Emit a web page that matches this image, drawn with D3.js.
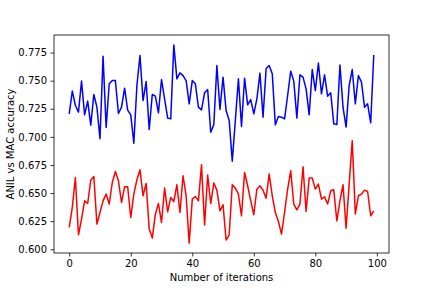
<!DOCTYPE html>
<html>
<head>
<meta charset="utf-8">
<script src="https://cdn.jsdelivr.net/npm/d3@7"></script>
<style>
  body { margin: 0; background: #fff; }
  text { font-family: "DejaVu Sans", sans-serif; }
</style>
</head>
<body>
<script>
var anilAcc = [0.7205,0.7407,0.7279,0.7220,0.7496,0.7196,0.7318,0.7104,0.7377,0.7264,
               0.6983,0.7718,0.7083,0.7472,0.7501,0.7501,0.7208,0.7264,0.7433,0.7238,
               0.7196,0.6944,0.7457,0.7723,0.7323,0.7492,0.7065,0.7377,0.7362,0.7214,
               0.7510,0.7338,0.7167,0.7160,0.7818,0.7516,0.7569,0.7545,0.7501,0.7294,
               0.7501,0.7472,0.7264,0.7240,0.7392,0.7421,0.7042,0.7107,0.7634,0.7243,
               0.7531,0.7234,0.7145,0.6784,0.7145,0.7516,0.7092,0.7522,0.7285,0.7332,
               0.7205,0.7338,0.7567,0.7175,0.7605,0.7634,0.7561,0.7107,0.7181,0.7175,
               0.7160,0.7368,0.7584,0.7496,0.7167,0.7552,0.7531,0.7427,0.7196,0.7599,
               0.7412,0.7656,0.7383,0.7552,0.7362,0.7392,0.7116,0.7110,0.7640,0.7264,
               0.7087,0.7457,0.7599,0.7294,0.7545,0.7487,0.7264,0.7294,0.7125,0.7729];

var macAcc = [0.6194,0.6372,0.6638,0.6129,0.6268,0.6431,0.6407,0.6615,0.6647,0.6224,
              0.6327,0.6431,0.6491,0.6402,0.6594,0.6692,0.6609,0.6416,0.6556,0.6556,
              0.6283,0.6491,0.6618,0.6707,0.6476,0.6585,0.6180,0.6100,0.6313,0.6407,
              0.6238,0.6544,0.6333,0.6461,0.6425,0.6574,0.6327,0.6654,0.6476,0.6055,
              0.6446,0.6470,0.6431,0.6751,0.6215,0.6660,0.6407,0.6589,0.6526,0.6342,
              0.6396,0.6082,0.6129,0.6574,0.6544,0.6491,0.6298,0.6683,0.6565,0.6431,
              0.6307,0.6535,0.6565,0.6526,0.6455,0.6669,0.6476,0.6327,0.6247,0.6135,
              0.6327,0.6535,0.6698,0.6402,0.6351,0.6402,0.6734,0.6336,0.6633,0.6633,
              0.6535,0.6580,0.6446,0.6467,0.6402,0.6520,0.6529,0.6253,0.6431,0.6574,
              0.6188,0.6580,0.6965,0.6313,0.6476,0.6491,0.6526,0.6514,0.6298,0.6342];

var xTicks = [0, 20, 40, 60, 80, 100];
var yTicks = [0.600, 0.625, 0.650, 0.675, 0.700, 0.725, 0.750, 0.775];

var width = 432, height = 288;
var margin = {top: 35, right: 43, bottom: 35, left: 54};

var svg = d3.select("body").append("svg")
    .attr("width", width)
    .attr("height", height);

var n = anilAcc.length;
var xPad = (n - 1) * 0.05;
var x = d3.scaleLinear()
    .domain([-xPad, n - 1 + xPad])
    .range([margin.left, width - margin.right]);

var all = anilAcc.concat(macAcc);
var yMin = d3.min(all), yMax = d3.max(all);
var yPad = (yMax - yMin) * 0.05;
var y = d3.scaleLinear()
    .domain([yMin - yPad, yMax + yPad])
    .range([height - margin.bottom, margin.top]);

var line = d3.line()
    .x(function(d, i) { return x(i); })
    .y(function(d) { return y(d); });

svg.append("path")
    .datum(anilAcc)
    .attr("fill", "none")
    .attr("stroke", "#0000ff")
    .attr("stroke-width", 1.5)
    .attr("stroke-linejoin", "round")
    .attr("d", line);

svg.append("path")
    .datum(macAcc)
    .attr("fill", "none")
    .attr("stroke", "#ff0000")
    .attr("stroke-width", 1.5)
    .attr("stroke-linejoin", "round")
    .attr("d", line);

var xAxis = d3.axisBottom(x)
    .tickValues(xTicks)
    .tickSize(3.5)
    .tickPadding(3.5)
    .tickFormat(d3.format("d"));

var yAxis = d3.axisLeft(y)
    .tickValues(yTicks)
    .tickSize(3.5)
    .tickPadding(3.5)
    .tickFormat(d3.format(".3f"));

var gx = svg.append("g")
    .attr("transform", "translate(0," + (height - margin.bottom) + ")")
    .call(xAxis);

var gy = svg.append("g")
    .attr("transform", "translate(" + margin.left + ",0)")
    .call(yAxis);

[gx, gy].forEach(function(g) {
  g.select(".domain").remove();
  g.selectAll("line").attr("stroke", "#000").attr("stroke-width", 0.8);
  g.selectAll("text")
      .attr("fill", "#000")
      .attr("font-size", 10)
      .attr("font-family", "DejaVu Sans, sans-serif");
});

// frame
svg.append("rect")
    .attr("x", margin.left)
    .attr("y", margin.top)
    .attr("width", width - margin.left - margin.right)
    .attr("height", height - margin.top - margin.bottom)
    .attr("fill", "none")
    .attr("stroke", "#000")
    .attr("stroke-width", 0.8);

svg.append("text")
    .attr("x", (margin.left + width - margin.right) / 2)
    .attr("y", 281)
    .attr("text-anchor", "middle")
    .attr("font-size", 10)
    .text("Number of iterations");

svg.append("text")
    .attr("transform", "translate(14," + ((margin.top + height - margin.bottom) / 2) + ") rotate(-90)")
    .attr("text-anchor", "middle")
    .attr("font-size", 10)
    .text("ANIL vs MAC accuracy");
</script>
</body>
</html>
